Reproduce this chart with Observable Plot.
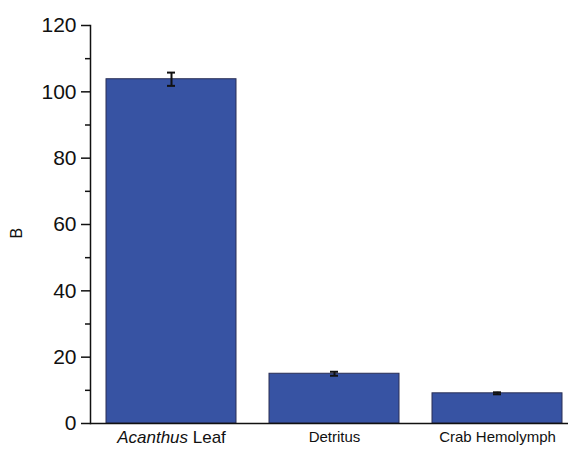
<!DOCTYPE html>
<html>
<head>
<meta charset="utf-8">
<script src="https://cdn.jsdelivr.net/npm/d3@7"></script>
<script src="https://cdn.jsdelivr.net/npm/@observablehq/plot@0.6"></script>
<style>
  html, body { margin: 0; padding: 0; background: #fff; }
  svg { font-family: "Liberation Sans", Arial, sans-serif; }
</style>
</head>
<body>
<div id="chart"></div>
<script>
const categories = ["Acanthus Leaf", "Detritus", "Crab Hemolymph"];
const values = [103.8, 15.0, 9.1];
const errors = [2.0, 0.6, 0.3];
const majorTicks = [0, 20, 40, 60, 80, 100, 120];
const minorTicks = [10, 30, 50, 70, 90, 110];

const data = categories.map((c, i) => ({cat: c, v: values[i], lo: values[i] - errors[i], hi: values[i] + errors[i]}));

const chart = Plot.plot({
  width: 568,
  height: 449,
  marginLeft: 90,
  marginRight: -11,
  marginTop: 25,
  marginBottom: 26,
  style: {fontFamily: "'Liberation Sans', Arial, sans-serif", color: "#111", background: "#fff"},
  x: {domain: categories, paddingInner: 0.2, paddingOuter: 0.1, axis: null},
  y: {domain: [0, 120], axis: null},
  marks: [
    Plot.barY(data, {x: "cat", y: "v", fill: "#3753A3", stroke: "#2a2f55", strokeWidth: 1}),
    Plot.ruleX(data, {x: "cat", y1: "lo", y2: "hi", stroke: "#111", strokeWidth: 2}),
    Plot.tickY(data, {x: "cat", y: "lo", stroke: "#111", strokeWidth: 2, insetLeft: 61, insetRight: 61}),
    Plot.tickY(data, {x: "cat", y: "hi", stroke: "#111", strokeWidth: 2, insetLeft: 61, insetRight: 61}),
    Plot.axisY({ticks: majorTicks, tickSize: 9, tickPadding: 5, fontSize: 21, label: null, stroke: "#111", strokeWidth: 1.5}),
    Plot.axisY({ticks: minorTicks, tickSize: 5, text: null, label: null, stroke: "#111", strokeWidth: 1.5}),
    Plot.frame({anchor: "left", stroke: "#111", strokeWidth: 1.5}),
    Plot.ruleY([0], {stroke: "#111", strokeWidth: 1.5}),
    Plot.text(data, {x: "cat", text: "cat", frameAnchor: "bottom", dy: 14, fontSize: (d, i) => i === 0 ? 17 : 15, lineAnchor: "middle", fill: "#111"}),
    Plot.text(["B"], {frameAnchor: "left", dx: -74, dy: 14, rotate: -90, fontSize: 16, fill: "#111"})
  ]
});

// Italicize the genus name in the first category label
chart.querySelectorAll("text").forEach(t => {
  if (t.textContent === "Acanthus Leaf") {
    t.textContent = "";
    const ns = "http://www.w3.org/2000/svg";
    const a = document.createElementNS(ns, "tspan");
    a.setAttribute("font-style", "italic");
    a.textContent = "Acanthus";
    const b = document.createElementNS(ns, "tspan");
    b.textContent = " Leaf";
    t.appendChild(a);
    t.appendChild(b);
  }
});

document.getElementById("chart").appendChild(chart);
</script>
</body>
</html>
